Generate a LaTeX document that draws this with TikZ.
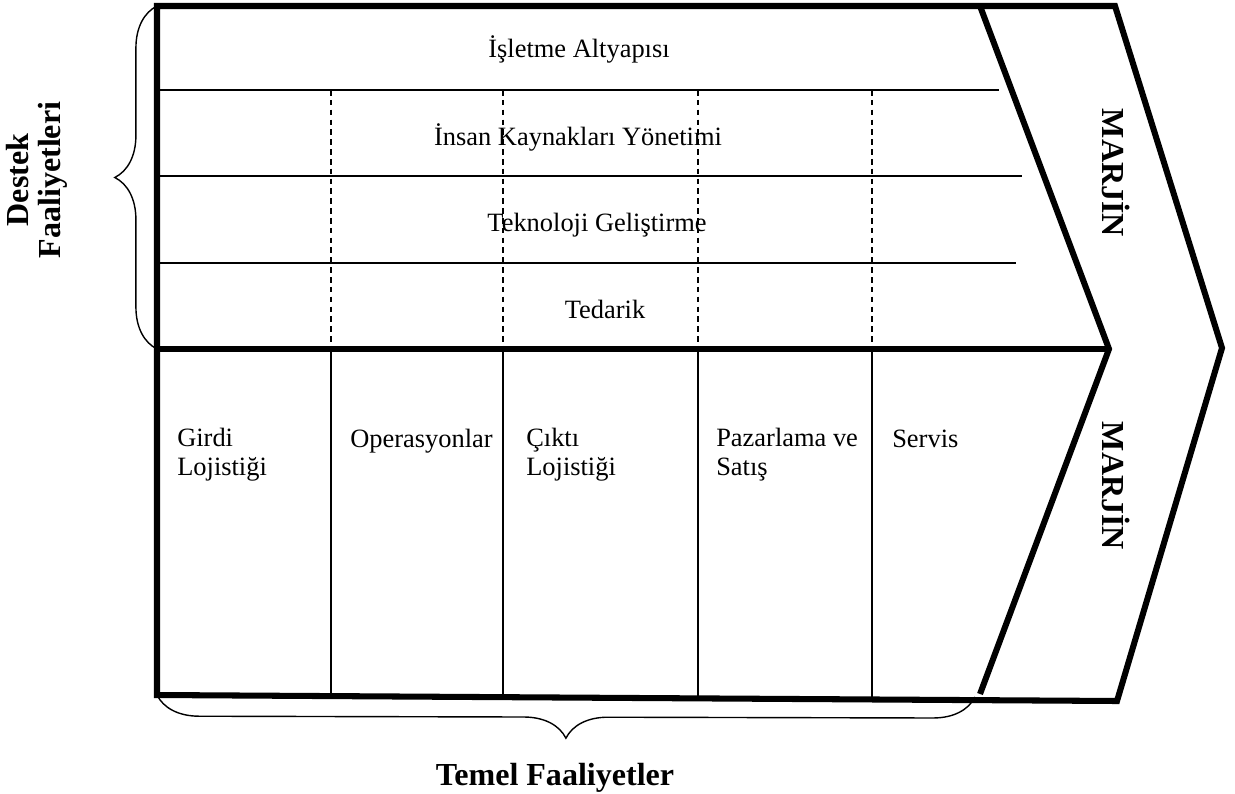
\documentclass[tikz,border=0pt]{standalone}
\usepackage{fontspec}
\setmainfont{Liberation Serif}
\newfontfamily\valuefont{Liberation Serif}
\usetikzlibrary{decorations.pathreplacing}

\begin{document}
\begin{tikzpicture}[x=0.025cm,y=-0.025cm,
    frameline/.style={line width=4.3pt},
    rowline/.style={line width=0.9pt},
    dashline/.style={line width=0.9pt, dash pattern=on 4pt off 3pt},
    braceline/.style={line width=1pt, decorate, decoration={brace, amplitude=30pt}},
    rowlabel/.style={font=\valuefont\fontsize{18.8}{20}\selectfont, inner sep=0pt},
    celllabel/.style={font=\valuefont\fontsize{18.8}{20}\selectfont, inner sep=0pt, align=left, anchor=base west},
    boldlabel/.style={font=\valuefont\bfseries\fontsize{22.8}{23}\selectfont, inner sep=0pt, align=center}]
    \useasboundingbox (0,0) rectangle (1235,794);

    % Corners of the frame and the margin arrow
    \coordinate (tl) at (157,6);
    \coordinate (bl) at (157,695);
    \coordinate (tr) at (1115,6);
    \coordinate (tip) at (1222,348);
    \coordinate (br) at (1117,701);
    \coordinate (mtop) at (980,6);
    \coordinate (mtip) at (1109,349);
    \coordinate (mbot) at (980,694);
    \coordinate (ml) at (157,349);

    % Outer frame with the arrow head
    \draw[frameline] (bl) -- (tl) -- (tr) -- (tip) -- (br) -- cycle;
    \draw[frameline] (mtop) -- (mtip) -- (mbot);
    \draw[frameline] (ml) -- (mtip);

    % Rows of the support activities
    \foreach \y/\e in {90/999,176/1022,263/1016}{
        \draw[rowline] (157,\y) -- (\e,\y);
    }

    % Column borders: dashed on top, solid below
    \foreach \x/\b in {331/696,503/697,698/698,872/699}{
        \draw[dashline] (\x,90) -- (\x,349);
        \draw[rowline] (\x,349) -- (\x,\b);
    }

    % Support activities
    \node[rowlabel, anchor=base] (altyapi) at (579,58) {İşletme Altyapısı};
    \node[rowlabel, anchor=base] (insan) at (578,146) {İnsan Kaynakları Yönetimi};
    \node[rowlabel, anchor=base] (teknoloji) at (597,231) {Teknoloji Geliştirme};
    \node[rowlabel, anchor=base] (tedarik) at (605,318) {Tedarik};

    % Primary activities (base is the last line)
    \node[celllabel] (girdi) at (177,475) {Girdi\\Lojistiği};
    \node[celllabel] (operasyon) at (350,447) {Operasyonlar};
    \node[celllabel] (cikti) at (526,475) {Çıktı\\Lojistiği};
    \node[celllabel] (pazarlama) at (716,475) {Pazarlama ve\\Satış};
    \node[celllabel] (servis) at (892,447) {Servis};

    % Margin labels
    \node[boldlabel, rotate=-90] (marjinust) at (1116,173) {MARJİN};
    \node[boldlabel, rotate=-90] (marjinalt) at (1116,486) {MARJİN};

    % Braces and their titles
    \draw[braceline] (ml) -- (tl);
    \draw[braceline] (975,697) -- (bl);
    \node[boldlabel, rotate=90] (destek) at (37,180) {Destek\\Faaliyetleri};
    \node[boldlabel, anchor=base] (temel) at (555,785) {Temel Faaliyetler};
\end{tikzpicture}
\end{document}
